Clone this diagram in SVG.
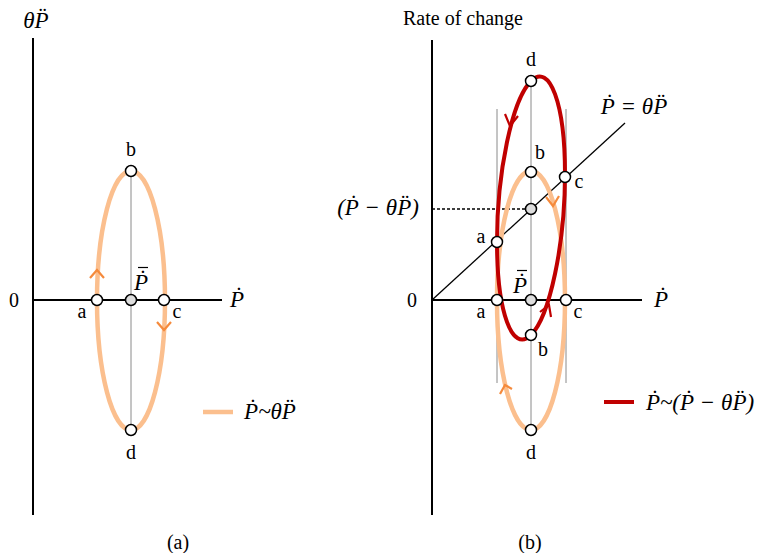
<svg xmlns="http://www.w3.org/2000/svg" width="762" height="553" viewBox="0 0 762 553">
<style>
.ax{stroke:#000;stroke-width:2;fill:none}
.thin{stroke:#000;stroke-width:1.3;fill:none}
.grey{stroke:#8a8a8a;stroke-width:1;fill:none}
.orange{stroke:#FBBF8E;stroke-width:4.5;fill:none}
.red{stroke:#C00000;stroke-width:4;fill:none}
.oarr{stroke:#F58A3C;stroke-width:2.2;fill:none}
.rarr{stroke:#C00000;stroke-width:2.2;fill:none}
.pt{fill:#fff;stroke:#000;stroke-width:1.5}
.ptg{fill:#ddd;stroke:#000;stroke-width:1.5}
.bar{stroke:#000;stroke-width:1.2}
.t{font-family:"Liberation Serif",serif;font-size:20px;fill:#000;text-anchor:middle}
.m{font-family:"Liberation Serif",serif;font-style:italic;font-size:23px;fill:#000;text-anchor:middle}
</style>
<g id="connectors">
<!-- left panel axes -->
<line class="ax" x1="33" y1="38" x2="33" y2="515"/>
<line class="ax" x1="33" y1="300" x2="222" y2="300"/>
<line class="grey" x1="131" y1="171" x2="131" y2="430"/>
<ellipse class="orange" cx="131" cy="300.5" rx="34" ry="129.5"/>
<path class="oarr" d="M90,278 L97,270 L104,278"/>
<path class="oarr" d="M157,322 L164,330 L171,322"/>
<line class="orange" x1="203" y1="412" x2="233" y2="412" stroke-width="5"/>
<!-- right panel axes -->
<line class="ax" x1="432" y1="40" x2="432" y2="515"/>
<line class="ax" x1="432" y1="300" x2="642" y2="300"/>
<line class="thin" x1="432" y1="300" x2="625" y2="123"/>
<line class="thin" x1="432" y1="209" x2="531" y2="209" stroke-dasharray="3,2" stroke-width="0.8"/>
<line class="grey" x1="531" y1="81" x2="531" y2="430"/>
<line class="grey" x1="497" y1="109" x2="497" y2="383"/>
<line class="grey" x1="566" y1="109" x2="566" y2="383"/>
<ellipse class="orange" cx="531" cy="300.5" rx="34" ry="129.5"/>
<path class="red" d="M565,174 C565,244.1 549.78,316.22 531,335 C512.22,353.78 497,312.14 497,242 C497,171.86 512.22,99.78 531,81 C549.78,62.22 565,103.86 565,174 Z"/>
<path class="rarr" d="M505,114 L510,126 L518,116"/>
<path class="rarr" d="M540,312 L549,305 L551,317"/>
<path class="oarr" d="M546,197 L553,206 L559,196"/>
<path class="oarr" d="M500,394 L505,385 L512,389"/>
<line class="red" x1="604" y1="402" x2="634" y2="402" stroke-width="5"/>
</g>
<g id="node-left-a"><circle class="pt" cx="97" cy="300" r="5.5"/><text class="t" x="82" y="318">a</text></g>
<g id="node-left-pbar"><circle class="ptg" cx="131" cy="300" r="5.5"/><text class="m" x="141" y="290" font-size="20">P&#x0307;</text><line class="bar" x1="138" y1="267.5" x2="148" y2="267.5"/></g>
<g id="node-left-c"><circle class="pt" cx="164" cy="300" r="5.5"/><text class="t" x="177" y="318">c</text></g>
<g id="node-left-b"><circle class="pt" cx="131" cy="171" r="5.5"/><text class="t" x="131" y="156">b</text></g>
<g id="node-left-d"><circle class="pt" cx="131" cy="430" r="5.5"/><text class="t" x="131" y="459">d</text></g>
<g id="labels-left">
<text class="m" x="36" y="28">θP&#x0308;</text>
<text class="t" x="14" y="307">0</text>
<text class="m" x="237" y="307">P&#x0307;</text>
<text class="m" x="270" y="419">P&#x0307;~θP&#x0308;</text>
<text class="t" x="178" y="549" font-size="17">(a)</text>
</g>
<g id="node-right-d-top"><circle class="pt" cx="531" cy="81" r="5.5"/><text class="t" x="531" y="66">d</text></g>
<g id="node-right-b-top"><circle class="pt" cx="531" cy="172" r="5.5"/><text class="t" x="540" y="159">b</text></g>
<g id="node-right-c-top"><circle class="pt" cx="565" cy="177" r="5.5"/><text class="t" x="579" y="188">c</text></g>
<g id="node-right-mid"><circle class="ptg" cx="531" cy="209" r="5.5"/></g>
<g id="node-right-a-top"><circle class="pt" cx="497" cy="242" r="5.5"/><text class="t" x="481" y="243">a</text></g>
<g id="node-right-a"><circle class="pt" cx="497" cy="300" r="5.5"/><text class="t" x="481" y="318">a</text></g>
<g id="node-right-pbar"><circle class="ptg" cx="531" cy="300" r="5.5"/><text class="m" x="520" y="293" font-size="20">P&#x0307;</text><line class="bar" x1="517" y1="270.5" x2="527" y2="270.5"/></g>
<g id="node-right-c"><circle class="pt" cx="566" cy="300" r="5.5"/><text class="t" x="578" y="318">c</text></g>
<g id="node-right-b"><circle class="pt" cx="531" cy="335" r="5.5"/><text class="t" x="543" y="356">b</text></g>
<g id="node-right-d"><circle class="pt" cx="531" cy="430" r="5.5"/><text class="t" x="531" y="459">d</text></g>
<g id="labels-right">
<text class="t" x="463" y="25">Rate of change</text>
<text class="m" x="634" y="114">P&#x0307; = θP&#x0308;</text>
<text class="m" x="378" y="215">(P&#x0307; − θP&#x0308;)</text>
<text class="t" x="412" y="307">0</text>
<text class="m" x="661" y="307">P&#x0307;</text>
<text class="m" x="700" y="410">P&#x0307;~(P&#x0307; − θP&#x0308;)</text>
<text class="t" x="530" y="549" font-size="17">(b)</text>
</g>
</svg>
